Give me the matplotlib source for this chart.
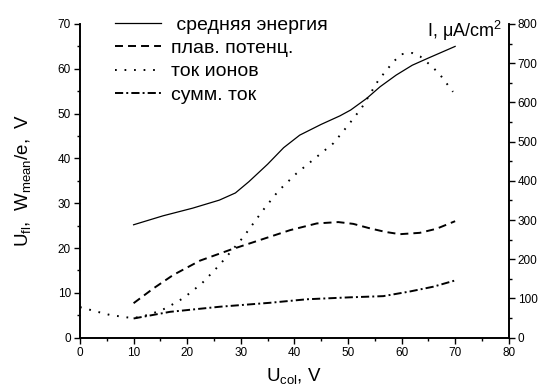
import matplotlib
matplotlib.use("Agg")
import matplotlib.pyplot as plt
from matplotlib.ticker import MultipleLocator

plt.rcParams['font.family'] = ['Liberation Sans', 'DejaVu Sans']
plt.rcParams['mathtext.default'] = 'regular'

# Mean electron energy W_mean/e, V
u_energy = [10, 15.5, 21, 26, 29, 31.5, 35, 38, 41, 45, 48.5, 50.5, 53.5, 56, 59, 62, 65, 70]
w_mean = [25.2, 27.2, 28.9, 30.7, 32.3, 34.8, 38.7, 42.4, 45.2, 47.6, 49.5, 50.8, 53.4, 56,
          58.6, 60.8, 62.4, 65]

# Floating potential U_fl, V
u_float = [10, 13.7, 17.4, 22.4, 28, 33.6, 39.2, 44.2, 48.2, 51, 54.1, 57, 59.7, 63.4, 66.5, 70]
u_fl = [7.7, 11.0, 14.0, 17.2, 19.6, 21.8, 24.0, 25.5, 25.8, 25.4, 24.4, 23.6, 23.1, 23.4,
        24.3, 26.0]

# Ion current density, uA/cm^2
u_ion = [0, 3, 5.6, 8.7, 10, 13, 16, 19.3, 22.7, 26, 28, 30.5, 34.2, 37, 40.4, 43.8, 47.3,
         50.1, 52.6, 55.7, 58.5, 60, 62, 63.5, 65.3, 67, 69.6]
i_ion = [78, 67, 58, 52, 50, 59, 75, 101, 138, 185, 217, 257, 326, 374, 419, 457, 496,
         543, 587, 657, 704, 723, 726, 717, 696, 674, 627]

# Total current density, uA/cm^2
u_sum = [10, 16.8, 26.1, 35.4, 42.3, 50.4, 56.6, 61.6, 65.9, 70]
i_sum = [49, 66, 79, 89, 98, 103, 106, 118, 130, 146]

labels = [' средняя энергия', 'плав. потенц.', 'ток ионов', 'сумм. ток']

fig = plt.figure(figsize=(5.42, 3.92), dpi=100)
ax = fig.add_axes([0.1476, 0.1385, 0.791, 0.8003])
ax2 = ax.twinx()

l1, = ax.plot(u_energy, w_mean, color='black', lw=0.9, ls='-')
l2, = ax.plot(u_float, u_fl, color='black', lw=1.4, ls=(0, (4.1, 2.6)))
l3, = ax2.plot(u_ion, i_ion, color='black', lw=1.4, ls=(0, (0.9, 4.0)))
l4, = ax2.plot(u_sum, i_sum, color='black', lw=1.4, ls=(0, (4.2, 1.6, 1.0, 1.6)))

ax.set_xlim(0, 80)
ax.set_ylim(0, 70)
ax2.set_ylim(0, 800)

for a in (ax, ax2):
    a.spines['top'].set_visible(False)
    for s in a.spines.values():
        s.set_linewidth(1.2)
    a.tick_params(which='major', direction='out', length=4.5, width=1.0, labelsize=8.5, pad=2)
    a.tick_params(which='minor', direction='out', length=2.5, width=1.0)

ax.xaxis.set_major_locator(MultipleLocator(10))
ax.xaxis.set_minor_locator(MultipleLocator(5))
ax.yaxis.set_major_locator(MultipleLocator(10))
ax.yaxis.set_minor_locator(MultipleLocator(5))
ax2.yaxis.set_major_locator(MultipleLocator(100))
ax2.yaxis.set_minor_locator(MultipleLocator(50))

ax.set_xlabel('U$_{col}$, V', fontsize=13.5, labelpad=5)
ax.set_ylabel('U$_{fl}$,  W$_{mean}$/e,  V', fontsize=13.5, labelpad=18)

fig.text(0.927, 1 - 37.3 / 392, 'I, μA/cm$^2$', fontsize=13, ha='right', va='baseline')

fig.legend([l1, l2, l3, l4], labels, loc='upper left',
           bbox_to_anchor=(115 / 542, 1 - 16 / 392), frameon=False,
           fontsize=14, handlelength=2.35, handletextpad=0.55,
           labelspacing=0.3, borderpad=0, borderaxespad=0)

fig.savefig('out.png', dpi=100)
